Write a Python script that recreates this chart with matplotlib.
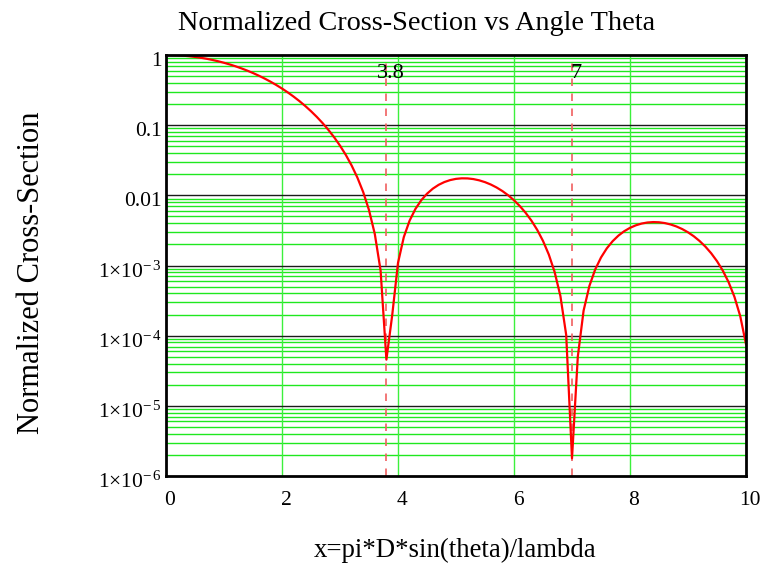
import numpy as np
import matplotlib
matplotlib.use("Agg")
import matplotlib.pyplot as plt
import matplotlib.transforms as mtransforms
from matplotlib.ticker import FixedLocator, NullFormatter

plt.rcParams["font.family"] = ["Liberation Serif", "DejaVu Serif"]
plt.rcParams["mathtext.fontset"] = "custom"
plt.rcParams["mathtext.rm"] = "Liberation Serif"
plt.rcParams["mathtext.it"] = "Liberation Serif:italic"
plt.rcParams["mathtext.default"] = "rm"

# Sample grid of x = pi*D*sin(theta)/lambda
x_vals = np.linspace(0.0, 10.0, 101)

# Normalized cross-section at each sample
cross_section = [
    1.0, 0.9975, 0.9900, 0.9777, 0.9607, 0.9391, 0.9133, 0.8836, 0.8503, 0.8138,
    0.7746, 0.7331, 0.6897, 0.6450, 0.5994, 0.5534, 0.5075, 0.4620, 0.4175, 0.3742,
    0.3326, 0.2929, 0.2554, 0.2204, 0.1879, 0.1581, 0.1312, 0.1070, 0.08564, 0.06704,
    0.05109, 0.03769, 0.02668, 0.01788, 0.01112, 0.006163, 0.002813, 0.000847, 4.553e-5, 1.951e-4,
    1.090e-3, 2.538e-3, 4.359e-3, 6.393e-3, 8.496e-3, 0.010546, 0.012442, 0.014104, 0.015470, 0.016498,
    0.017169, 0.017476, 0.017426, 0.017044, 0.016359, 0.015416, 0.014257, 0.012936, 0.011503, 0.010010,
    0.008506, 0.007037, 0.005645, 0.004364, 0.003222, 0.002241, 0.001434, 0.000810, 0.000368, 1.023e-4,
    1.788e-6, 5.02e-5, 2.278e-4, 5.118e-4, 8.779e-4, 1.3008e-3, 1.7554e-3, 2.2178e-3, 2.6658e-3, 3.0790e-3,
    3.4410e-3, 3.7379e-3, 3.9598e-3, 4.1003e-3, 4.1569e-3, 4.1299e-3, 4.0234e-3, 3.8446e-3, 3.6019e-3, 3.3069e-3,
    2.9717e-3, 2.6096e-3, 2.2338e-3, 1.8575e-3, 1.4934e-3, 1.1526e-3, 8.449e-4, 5.784e-4, 3.590e-4, 1.908e-4,
    7.56e-5,
]

# Marked minima
marker_x = [3.8, 7.0]
marker_labels = ["3.8", "7"]

x_ticks = [0, 2, 4, 6, 8, 10]
x_tick_labels = ["0", "2", "4", "6", "8", "10"]
y_ticks = [1e-6, 1e-5, 1e-4, 1e-3, 1e-2, 1e-1, 1.0]
y_tick_labels = [r"$1{\times}10^{-\,6}$", r"$1{\times}10^{-\,5}$", r"$1{\times}10^{-\,4}$",
                 r"$1{\times}10^{-\,3}$", "0.01", "0.1", "1"]

fig = plt.figure(figsize=(7.7, 5.7), dpi=100)
ax = fig.add_axes([166 / 770, 1 - 476 / 570, 580 / 770, 421 / 570])

ax.set_yscale("log")
ax.set_xlim(0, 10)
ax.set_ylim(1e-6, 1.0)

# grid: green minor lines, black decade lines, green verticals
minor_y = [m * 10.0 ** e for e in range(-6, 0) for m in range(2, 10)]
for yv in minor_y:
    ax.axhline(yv, color="#1fe81f", lw=1.0, zorder=1)
for yv in y_ticks[1:-1]:
    ax.axhline(yv, color="#1a1a1a", lw=1.0, zorder=1.5)
for xv in x_ticks[1:-1]:
    ax.axvline(xv, color="#3cf03c", lw=1.0, zorder=1)

ax.plot(x_vals, cross_section, color="#ff0000", lw=1.6, zorder=3)

for xm, lab in zip(marker_x, marker_labels):
    ax.axvline(xm, color="#f06060", lw=1.2, ls=(0, (4.5, 4.5)), zorder=2)
    ax.annotate(lab, xy=(xm, 1.0), xycoords=("data", "data"),
                xytext=(3, -13), textcoords="offset points",
                ha="center", va="center", fontsize=16, color="black", zorder=4)

ax.xaxis.set_major_locator(FixedLocator(x_ticks))
ax.set_xticklabels(x_tick_labels)
ax.yaxis.set_major_locator(FixedLocator(y_ticks))
ax.yaxis.set_minor_locator(FixedLocator([]))
ax.yaxis.set_minor_formatter(NullFormatter())
ax.set_yticklabels(y_tick_labels)
ax.tick_params(axis="both", which="both", length=0, labelsize=15.5)
ax.tick_params(axis="x", pad=11)
ax.tick_params(axis="y", pad=3)

# nudge tick labels: x labels slightly right, y labels slightly down
shift_x = mtransforms.ScaledTranslation(4 / 100, 0, fig.dpi_scale_trans)
shift_y = mtransforms.ScaledTranslation(0, -4 / 100, fig.dpi_scale_trans)
for lbl in ax.get_xticklabels():
    lbl.set_transform(lbl.get_transform() + shift_x)
for lbl in ax.get_yticklabels():
    lbl.set_transform(lbl.get_transform() + shift_y)

for sp in ax.spines.values():
    sp.set_linewidth(2.0)
    sp.set_color("black")
    sp.set_zorder(5)

fig.text(417 / 770, 1 - 23 / 570, "Normalized Cross-Section vs Angle Theta",
         ha="center", va="center", fontsize=20.3)
fig.text(455 / 770, 1 - 550 / 570, "x=pi*D*sin(theta)/lambda",
         ha="center", va="center", fontsize=19.3)
fig.text(32 / 770, 1 - 273 / 570, "Normalized Cross-Section",
         ha="center", va="center", rotation=90, fontsize=22)

fig.savefig("out.png", dpi=100)
